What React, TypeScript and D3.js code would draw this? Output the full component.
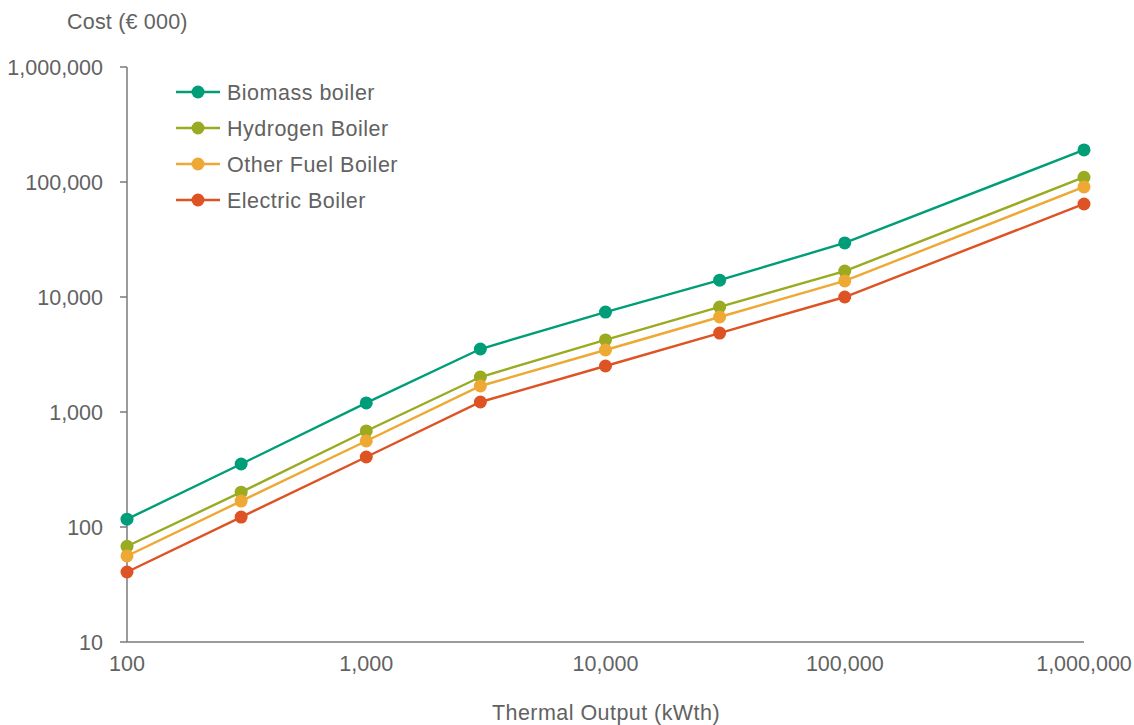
import React from "react";
import * as d3 from "d3";

const xValues = [100, 300, 1000, 3000, 10000, 30000, 100000, 1000000];
const biomass = [117, 353, 1200, 3530, 7400, 14000, 29500, 190000];
const hydrogen = [68, 201, 684, 2015, 4230, 8190, 16800, 110000];
const otherFuel = [56, 168, 560, 1683, 3460, 6700, 13800, 90600];
const electric = [40.6, 122, 406, 1222, 2512, 4860, 10000, 64400];
const seriesNames = ["Biomass boiler", "Hydrogen Boiler", "Other Fuel Boiler", "Electric Boiler"];
const seriesColors = ["#009E78", "#9AAB22", "#EEA834", "#DE5324"];
const xTicks = [100, 1000, 10000, 100000, 1000000];
const yTicks = [10, 100, 1000, 10000, 100000, 1000000];

const W = 1134, H = 725;
const fmt = d3.format(",");

export default function App() {
  const x = d3.scaleLog().domain([100, 1000000]).range([127, 1084]);
  const y = d3.scaleLog().domain([10, 1000000]).range([642, 67]);
  const allSeries = [biomass, hydrogen, otherFuel, electric];
  const line = d3.line<number>().x((_, i) => x(xValues[i])).y((d) => y(d));
  const axisColor = "#7a7a7a";
  const textColor = "#626262";
  const font = "'Liberation Sans', Arial, sans-serif";
  const fs = 21.5;
  return (
    <svg width={W} height={H} style={{ position: "absolute", left: 0, top: 0, display: "block", background: "#fff" }} fontFamily={font}>
      {/* axes */}
      <line x1={x(100)} x2={x(100)} y1={y(1000000)} y2={y(10)} stroke={axisColor} strokeWidth={1.5} />
      <line x1={x(100)} x2={x(1000000)} y1={y(10)} y2={y(10)} stroke={axisColor} strokeWidth={1.5} />
      {yTicks.map((t) => (
        <g key={"y" + t}>
          <line x1={x(100) - 7} x2={x(100)} y1={y(t)} y2={y(t)} stroke={axisColor} strokeWidth={1.5} />
          <text x={103} y={y(t)} dy="0.35em" textAnchor="end" fontSize={fs} fill={textColor}>{fmt(t)}</text>
        </g>
      ))}
      {xTicks.map((t) => (
        <text key={"x" + t} x={x(t)} y={671} textAnchor="middle" fontSize={fs} fill={textColor}>{fmt(t)}</text>
      ))}
      <text x={67} y={29} fontSize={fs} letterSpacing={0.2} fill={textColor}>Cost (€ 000)</text>
      <text x={606} y={720} textAnchor="middle" fontSize={fs} letterSpacing={0.45} fill={textColor}>Thermal Output (kWth)</text>
      {/* series */}
      {allSeries.map((s, si) => (
        <g key={"s" + si}>
          <path d={line(s) || ""} fill="none" stroke={seriesColors[si]} strokeWidth={2.4} />
          {s.map((v, i) => (
            <circle key={i} cx={x(xValues[i])} cy={y(v)} r={6.5} fill={seriesColors[si]} />
          ))}
        </g>
      ))}
      {/* legend */}
      {seriesNames.map((n, i) => (
        <g key={"l" + i} transform={`translate(0, ${92 + i * 36})`}>
          <line x1={176} x2={220} y1={0} y2={0} stroke={seriesColors[i]} strokeWidth={2.4} />
          <circle cx={198} cy={0} r={6.5} fill={seriesColors[i]} />
          <text x={227} y={0} dy="0.35em" fontSize={fs} letterSpacing={0.5} fill={textColor}>{n}</text>
        </g>
      ))}
    </svg>
  );
}
